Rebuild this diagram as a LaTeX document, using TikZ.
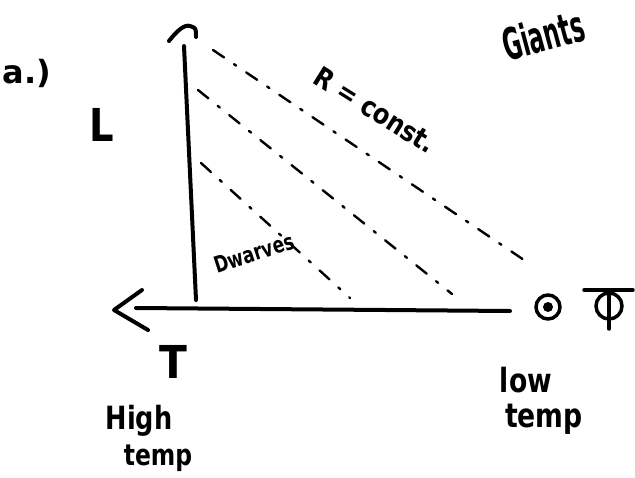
\documentclass[tikz,border=0pt]{standalone}
\usepackage{fontspec}
\setmainfont{DejaVu Sans}
\usetikzlibrary{arrows.meta}
\begin{document}
\begin{tikzpicture}[x=0.75pt,y=-0.75pt,
  axis/.style={line width=3pt,line cap=round,line join=round},
  caret/.style={line width=3pt,line cap=round,line join=round},
  rline/.style={line width=1.8pt,line cap=round,dash pattern=on 10pt off 9pt on 2pt off 9pt},
  lbl/.style={inner sep=0pt,text=black},
  sym/.style={line width=2.6pt}]
\useasboundingbox (0,0) rectangle (635,478);
% axes
\coordinate (vtop) at (184,46);
\coordinate (origin) at (196,300);
\coordinate (hleft) at (136,308);
\coordinate (hright) at (510,311);
\draw[axis] (origin) -- (vtop);
\draw[axis] (hright) -- (hleft);
\draw[caret] (169,41) .. controls (176,32) and (184,24) .. (190,26) .. controls (196,28) .. (196,37);
\draw[caret] (142,290) -- (114,310) -- (148,330);
% constant-radius lines
\coordinate (a1) at (213,50);  \coordinate (b1) at (524,260);
\coordinate (a2) at (198,90);  \coordinate (b2) at (452,294);
\coordinate (a3) at (201,163); \coordinate (b3) at (350,298);
\draw[rline] (a1) -- (b1);
\draw[rline] (a2) -- (b2);
\draw[rline] (a3) -- (b3);
% labels
\node[lbl,font=\bfseries\fontsize{24}{24}\selectfont] (parta) at (27,73) {a.)};
\node[lbl,font=\bfseries\fontsize{34}{34}\selectfont,xscale=0.85] (Llab) at (102,125) {L};
\node[lbl,font=\bfseries\fontsize{34}{34}\selectfont,xscale=0.9] (Tlab) at (173,362) {T};
\node[lbl,font=\bfseries\fontsize{21}{21}\selectfont,rotate=-32,xscale=0.85] (rconst) at (375,110) {R = const.};
\node[lbl,font=\bfseries\fontsize{33}{33}\selectfont,rotate=15,xscale=0.52] (giants) at (543,35) {Giants};
\node[lbl,font=\bfseries\fontsize{17}{17}\selectfont,rotate=18,xscale=0.75] (dwarves) at (254,253) {Dwarves};
\node[lbl,font=\bfseries\fontsize{24}{24}\selectfont,xscale=0.8] (high) at (139,421) {High};
\node[lbl,font=\bfseries\fontsize{22}{22}\selectfont,xscale=0.8] (temp1) at (158,458) {temp};
\node[lbl,font=\bfseries\fontsize{25}{25}\selectfont,xscale=0.8] (low) at (526,380) {low};
\node[lbl,font=\bfseries\fontsize{25}{25}\selectfont,xscale=0.8] (temp2) at (544,419) {temp};
% symbols
\coordinate (s1) at (548,307);
\coordinate (s2) at (609,306);
\draw[sym] (s1) circle (12);
\fill (s1) circle (5);
\draw[sym] (s2) circle (13);
\draw[sym,line cap=round] (584,290) -- (633,290);
\draw[sym,line cap=round] (609,290) -- (609,329);
\end{tikzpicture}
\end{document}
